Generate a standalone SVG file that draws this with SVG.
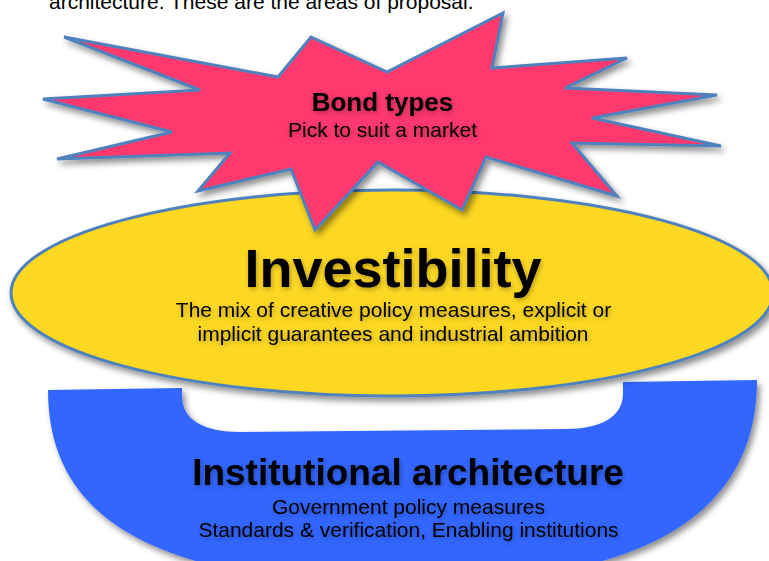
<svg xmlns="http://www.w3.org/2000/svg" width="769" height="561" viewBox="0 0 769 561">
  <defs>
    <filter id="shadow" x="-10%" y="-10%" width="120%" height="130%">
      <feDropShadow dx="3" dy="4" stdDeviation="3" flood-color="#000" flood-opacity="0.45"/>
    </filter>
    <filter id="tshadow" x="-10%" y="-30%" width="120%" height="160%">
      <feDropShadow dx="1" dy="2" stdDeviation="2.5" flood-color="#000" flood-opacity="0.3"/>
    </filter>
  </defs>
  <style>
    .shape { stroke: #4F81BD; stroke-width: 3; stroke-linejoin: miter; }
    .title { font-family: "Liberation Sans", Arial, sans-serif; font-weight: bold; fill: #000; text-anchor: middle; }
    .sub { font-family: "Liberation Sans", Arial, sans-serif; fill: #000; text-anchor: middle; font-size: 21px; }
  </style>

  <rect width="769" height="561" fill="#FFFFFF"/>

  <text x="49" y="9" font-family="Liberation Sans, Arial, sans-serif" font-size="21" fill="#000">architecture. These are the areas of proposal.</text>

  <g id="institutional-architecture">
    <path fill="#3366FF" filter="url(#shadow)" d="M48,390 L182,388 L182,396 C182,420 204,432 240,432 L566,429 C600,429 623,417 623,394 L623,382 L757,380 C757,520 635,584 405,584 C175,584 48,530 48,390 Z"/>
    <g filter="url(#tshadow)">
      <text class="title" x="408" y="485" font-size="37">Institutional architecture</text>
      <text class="sub" x="408.5" y="514">Government policy measures</text>
      <text class="sub" x="408.5" y="537">Standards &amp; verification, Enabling institutions</text>
    </g>
  </g>

  <g id="investibility">
    <ellipse class="shape" cx="392" cy="293" rx="381" ry="103" fill="#FDD820" filter="url(#shadow)"/>
    <g filter="url(#tshadow)">
      <text class="title" x="393" y="287" font-size="54">Investibility</text>
      <text class="sub" x="393.5" y="317">The mix of creative policy measures, explicit or</text>
      <text class="sub" x="393" y="341">implicit guarantees and industrial ambition</text>
    </g>
  </g>

  <g id="bond-types">
    <polygon class="shape" fill="#FF386E" filter="url(#shadow)" points="64,37 278,77 311,37 387,72 503,13 492,68 627,58 565,88 717,95 592,118 721,146 572,143 617,196 486,157 462,210 378,162 315,230 291,169 198,191 230,153 57,159 172,132 43,99 200,90"/>
    <g filter="url(#tshadow)">
      <text class="title" x="382.5" y="111" font-size="26">Bond types</text>
      <text class="sub" x="382.5" y="137">Pick to suit a market</text>
    </g>
  </g>

  <g id="connectors"></g>
</svg>
